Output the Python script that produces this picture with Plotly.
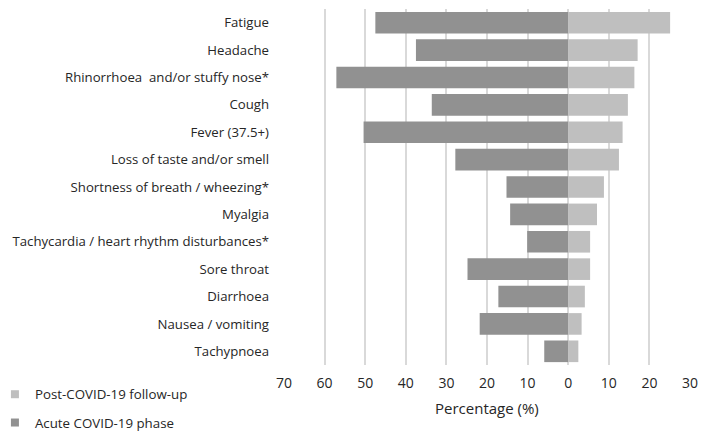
import plotly.graph_objects as go

symptoms = [
    "Fatigue", "Headache", "Rhinorrhoea  and/or stuffy nose*", "Cough",
    "Fever (37.5+)", "Loss of taste and/or smell", "Shortness of breath / wheezing*",
    "Myalgia", "Tachycardia / heart rhythm disturbances*", "Sore throat",
    "Diarrhoea", "Nausea / vomiting", "Tachypnoea",
]
acute = [47.5, 37.5, 57.1, 33.6, 50.4, 27.8, 15.2, 14.3, 10.1, 24.8, 17.2, 21.8, 5.9]
post = [25.1, 17.1, 16.3, 14.7, 13.4, 12.5, 8.8, 7.1, 5.4, 5.4, 4.1, 3.3, 2.5]
tick_vals = [-70, -60, -50, -40, -30, -20, -10, 0, 10, 20, 30]
tick_text = ["70", "60", "50", "40", "30", "20", "10", "0", "10", "20", "30"]
x_title = "Percentage (%)"

c_acute = "#919191"
c_post = "#bfbfbf"
c_text = "#262626"
font_family = "Open Sans, Liberation Sans, sans-serif"

fig = go.Figure()
fig.add_trace(go.Bar(y=symptoms, x=[-v for v in acute], orientation="h",
                     marker=dict(color=c_acute, line=dict(width=0)),
                     name="Acute COVID-19 phase", showlegend=False,
                     customdata=acute, hovertemplate="%{y}: %{customdata}%<extra></extra>"))
fig.add_trace(go.Bar(y=symptoms, x=post, orientation="h",
                     marker=dict(color=c_post, line=dict(width=0)),
                     name="Post-COVID-19 follow-up", showlegend=False))
# legend entries
fig.add_trace(go.Scatter(x=[None], y=[None], mode="markers",
                         marker=dict(symbol="square", size=8, color=c_post),
                         name="Post-COVID-19 follow-up", legendgroup="a"))
fig.add_trace(go.Scatter(x=[None], y=[None], mode="markers",
                         marker=dict(symbol="square", size=8, color=c_acute),
                         name="Acute COVID-19 phase", legendgroup="b"))

fig.update_layout(
    width=700, height=429,
    margin=dict(l=276, r=18, t=1, b=72, autoexpand=False),
    barmode="relative", bargap=0.21,
    plot_bgcolor="white", paper_bgcolor="white",
    font=dict(family=font_family, size=13.2, color=c_text),
    legend=dict(xref="paper", yref="container", x=-0.712, y=0.135,
                xanchor="left", yanchor="top", traceorder="grouped",
                tracegroupgap=8, itemwidth=30, bgcolor="rgba(0,0,0,0)",
                font=dict(size=13.3, color=c_text)),
    showlegend=True,
    annotations=[dict(text=x_title, xref="paper", yref="paper", x=0.5, y=-0.121,
                      xanchor="center", yanchor="middle", showarrow=False,
                      font=dict(size=15, color=c_text))],
)
fig.update_xaxes(range=[-70, 30], tickvals=tick_vals, ticktext=tick_text,
                 showgrid=True, gridcolor="#d9d9d9", gridwidth=1.5,
                 zeroline=False, showline=False, ticks="", automargin=False,
                 ticklabelstandoff=8, tickfont=dict(size=14))
fig.update_yaxes(categoryorder="array", categoryarray=symptoms, autorange="reversed",
                 showgrid=False, ticks="", ticklabelstandoff=14, automargin=False,
                 tickfont=dict(size=13.2))

fig.write_html("out.html")
